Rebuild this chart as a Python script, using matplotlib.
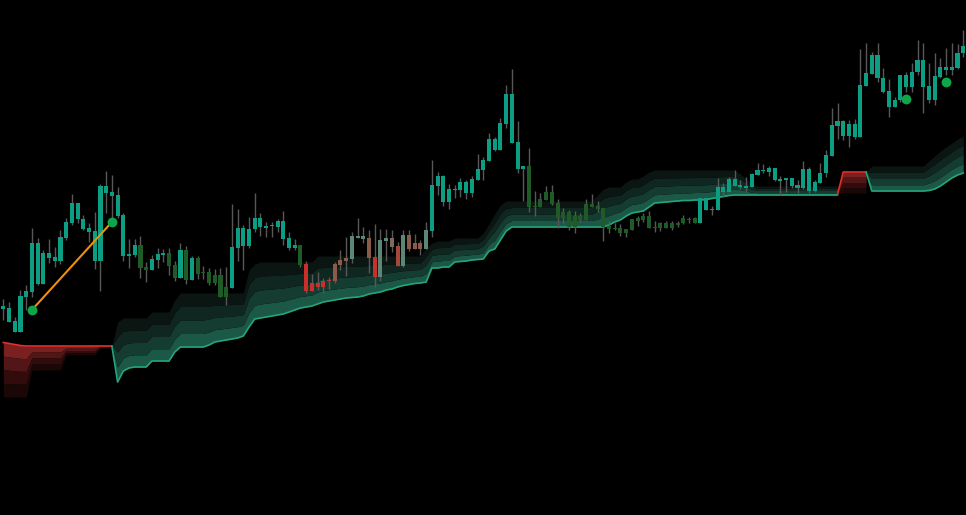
import numpy as np
import matplotlib
matplotlib.use("Agg")
import matplotlib.pyplot as plt

# candles, values are read top-down off the chart (y axis is inverted below)
high = [299, 302, 317, 290, 285, 228, 238, 250, 239, 247, 230, 218, 194, 203, 215, 223, 212, 184, 171, 175,
        187, 213, 239, 239, 236, 262, 255, 248, 249, 248, 261, 243, 246, 256, 256, 266, 268, 269, 268, 267,
        204, 209, 225, 217, 193, 213, 222, 222, 219, 211, 232, 239, 245, 261, 274, 272, 278, 277, 262, 250,
        237, 232, 218, 227, 230, 224, 229, 229, 230, 242, 230, 230, 234, 240, 222, 160, 172, 175, 184, 185,
        178, 180, 176, 154, 157, 133, 137, 118, 85, 69, 121, 166, 148, 191, 193, 186, 185, 199, 208, 210,
        211, 213, 199, 194, 201, 208, 221, 223, 224, 229, 219, 216, 213, 211, 221, 222, 221, 221, 221, 215,
        217, 217, 198, 198, 206, 178, 183, 177, 170, 180, 177, 173, 163, 164, 166, 168, 176, 178, 178, 180,
        161, 167, 180, 163, 150, 108, 103, 120, 120, 119, 49, 43, 52, 43, 68, 79, 97, 75, 72, 63,
        40, 43, 63, 53, 58, 48, 43, 44, 30]
body_top = [306, 308, 321, 296, 291, 243, 243, 253, 253, 257, 237, 222, 203, 203, 219, 228, 231, 186, 186, 192,
            195, 215, 254, 245, 245, 267, 259, 254, 253, 253, 265, 250, 250, 258, 258, 272, 272, 275, 275, 287,
            247, 228, 228, 229, 218, 218, 226, 224.5, 221, 221, 238, 245, 245, 264, 283, 283, 281, 279.5, 264, 260,
            258, 236, 236, 236, 238, 257, 240, 238, 238, 246, 235, 235, 243, 243, 230, 185, 176, 176, 189, 188.5,
            182, 182, 179, 169, 160, 139, 139, 123, 94, 94, 142, 166, 166, 205.5, 199, 192, 192, 203, 212, 212,
            216, 216, 204, 204, 206, 208, 226, 227.5, 228, 229, 219, 218, 216, 216, 226.5, 223, 223, 223, 223, 218,
            218.5, 218, 198, 198, 208.5, 187, 187, 179, 179, 185, 186, 174, 170, 170, 168, 168, 179, 178, 178, 185,
            169, 169, 182, 173, 155, 125, 121, 121, 124, 124, 85, 73, 55, 55, 78, 91, 100, 75, 75, 72,
            60, 60, 86, 76, 67, 67, 67, 53, 46]
body_bot = [309, 322, 332, 332, 297, 292, 284, 284, 258, 261, 261, 238, 223, 219, 229, 232, 261, 261, 193, 196,
            216, 256, 256, 255, 268, 270, 270, 260, 255, 266, 278, 278, 280, 280, 274, 273, 283, 283, 297, 297,
            288, 248, 246, 246, 229, 227, 228, 226, 227, 239, 248, 248, 265, 291, 291, 287, 287, 281, 281, 265,
            261, 259, 237.5, 239, 258, 277, 277, 241, 247, 266, 266, 249, 249, 249, 249, 231, 186, 202, 202, 190,
            190, 193, 193, 180, 170, 161, 150, 150, 124, 143, 169, 169, 207, 207, 207, 200, 204, 218, 218, 227,
            227, 220, 220, 207, 209, 227, 229, 229, 233, 233, 230, 221, 220, 228, 228, 228, 228, 228, 225, 223,
            220, 223, 223, 210, 210, 210, 192, 192, 186, 187, 187.5, 187, 175, 171, 172, 180, 180.5, 179.5, 186, 188,
            188, 191, 191, 183, 173, 156, 126, 136, 136, 137, 137, 86, 74, 78, 92, 107, 107, 100, 87, 87,
            72, 87, 100, 100, 77, 70, 70, 68, 53]
low = [320, 322, 332, 332, 310, 297, 285, 284, 263, 267, 264, 240, 225, 223, 230, 242, 269, 291, 213, 220,
       218, 261, 268, 257, 278, 282, 270, 268, 262, 275, 281, 278, 284, 280, 279, 279, 285, 285, 297, 305,
       288, 261, 270, 248, 232, 236, 237, 237, 232, 245, 250, 250, 267, 293, 291, 290, 293, 289, 283, 270,
       276, 263, 238, 243, 273, 287, 281, 261, 252, 266, 267, 251, 249, 255, 249, 237, 195, 206, 209, 198,
       197, 199, 197, 180, 180, 161, 151, 150, 128, 143, 173, 201, 212, 216, 207, 200, 205, 228, 224, 230,
       233, 222, 220, 207, 212, 241, 233, 230, 236, 237, 230, 226, 222, 228, 232, 231, 228, 230, 227, 224,
       223, 223, 223, 210, 215, 210, 197, 192, 186, 189, 192, 187, 175, 173, 176, 181, 195, 192, 188, 193,
       189, 193, 192, 183, 177, 156, 139, 140, 147, 139, 137, 86, 74, 82, 93, 117, 107, 102, 92, 92,
       75, 113, 103, 105, 78, 75, 75, 69, 57]
kind = ("T" * 24 + "GG" + "TTT" + "GG" + "T" + "G" + "T" + "GGGGGG" + "T" * 12 + "G" + "RRRRR" + "BBB" + "SSS"
        + "B" + "R" + "SS" + "M" + "X" + "S" + "BBB" + "S" + "T" * 17 + "G" * 30 + "T" * 47)
kind_color = {"T": "#0b9e83", "G": "#1f5b27", "R": "#c9302c", "B": "#8a5a4a",
              "S": "#5b8776", "M": "#7d6a5a", "X": "#a5483a"}

# trailing stop bands: (first bar, stop line, far edge of band, trend)
red1_start = 0
red1_stop = [342.5, 343.5, 344.5, 345.5] + [346] * 16
red1_edge = [397] * 5 + [370] * 6 + [355] * 6 + [348, 348, 346]

green1_start = 19
green1_stop = ([346, 382, 371, 368, 367, 367, 367, 361, 361, 361, 361, 352, 347, 347, 347, 347, 347, 345, 342, 341,
                340, 339, 338, 336, 327, 319, 318, 317, 316, 315, 314, 312, 310, 308, 307, 306, 304, 302, 301, 300,
                299, 298, 297.5, 297, 296, 294, 293, 292, 290, 289, 287, 285.5, 284.5, 283.5, 283, 282, 268, 268,
                267, 267, 262, 261.5, 261, 260, 259.5, 259, 251, 249, 240, 231] + [227] * 17
               + [225, 222, 220, 216, 213, 212, 211, 207, 203, 202.5, 202, 201.5, 201, 200.5, 200.5, 200, 200,
                  199.5, 198.5, 197.5, 196.5, 195.5] + [195] * 19)
green1_edge = ([346, 322] + [318] * 5 + [312] * 4 + [300] + [293] * 12 + [270, 264] + [262] * 10 + [256] * 19
               + [248, 243] + [241] * 3 + [238] * 5 + [233, 224, 214, 205] + [201] * 16 + [195, 189] + [187] * 3
               + [182] + [179] * 2 + [176, 172] + [170] * 15 + [174, 179, 184] + [186] * 15)

red2_start = 146
red2_stop = [194, 172, 172, 172, 172, 172]
red2_edge = [194, 193, 193, 193, 193, 193]

green2_start = 151
green2_stop = [172, 191, 191, 191, 191, 191, 191, 191, 191, 191, 191, 190.5, 189, 186, 182, 178, 175, 173]
green2_edge = [172, 166, 166, 166, 166, 166, 166, 166, 166, 166, 166, 161, 156, 151, 147, 143, 139, 136]

# pivot points and the connecting swing line
dot_x = [5, 19, 158, 165]
dot_y = [310, 222, 99, 82]

bands = [(red1_start, red1_stop, red1_edge, "red"),
         (green1_start, green1_stop, green1_edge, "green"),
         (red2_start, red2_stop, red2_edge, "red"),
         (green2_start, green2_stop, green2_edge, "green")]
layer_colors = {"green": ["#1b5846", "#153c31", "#0f2720", "#0b1613"],
                "red": ["#7a2020", "#521616", "#320c0c", "#1c0707"]}
line_colors = {"green": "#24a37c", "red": "#e3302b"}

fig = plt.figure(figsize=(9.66, 5.15), dpi=100, facecolor="black")
ax = fig.add_axes([0, 0, 1, 1])
ax.set_facecolor("black")

for start, stop, edge, trend in bands:
    stop = np.array(stop, dtype=float)
    edge = np.array(edge, dtype=float)
    xs = np.arange(start, start + len(stop))
    for k in range(4):
        a = stop + (edge - stop) * k / 4
        b = stop + (edge - stop) * (k + 1) / 4
        ax.fill_between(xs, a, b, color=layer_colors[trend][k], lw=0, zorder=1)
    ax.plot(xs, stop, color=line_colors[trend], lw=1.2, zorder=2)

idx = np.arange(len(high))
cols = [kind_color[k] for k in kind]
ax.vlines(idx, high, low, color="#585858", lw=1, zorder=3)
h = np.maximum(np.array(body_bot) - np.array(body_top), 1.0)
ax.bar(idx, h, bottom=body_top, width=0.72, color=cols, lw=0, zorder=4)

ax.plot(dot_x[:2], dot_y[:2], color="#f0900a", lw=1.5, zorder=5)
ax.scatter(dot_x, dot_y, s=50, color="#0fa64a", zorder=6, lw=0)

ax.set_xlim(-0.58, 168.48)
ax.set_ylim(515, 0)
ax.axis("off")

fig.savefig("out.png", dpi=100, facecolor="black")
